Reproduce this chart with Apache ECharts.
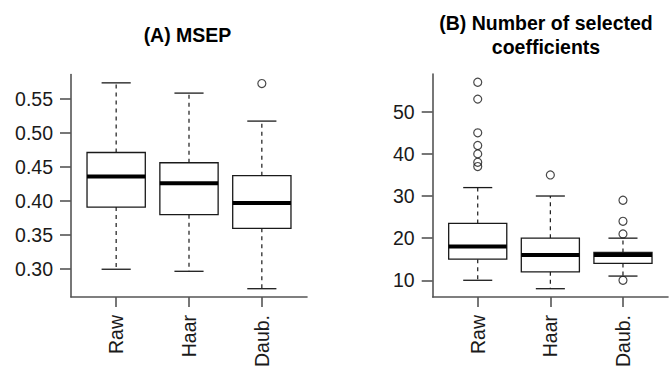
<!DOCTYPE html>
<html>
<head>
<meta charset="utf-8">
<script src="https://cdn.jsdelivr.net/npm/echarts@6/dist/echarts.min.js"></script>
<style>html,body{margin:0;padding:0;background:#fff;}#chart{width:670px;height:370px;}</style>
</head>
<body>
<div id="chart"></div>
<script>
// ---- data ----
const categories = ['Raw', 'Haar', 'Daub.'];
const catPositions = [1, 2, 3];

// Panel A: MSEP
const msepLower  = [0.300, 0.297, 0.2715];
const msepQ1     = [0.391, 0.380, 0.360];
const msepMedian = [0.436, 0.426, 0.397];
const msepQ3     = [0.471, 0.456, 0.437];
const msepUpper  = [0.573, 0.558, 0.517];
const msepOutliers = [[3, 0.572]];
const msepTicks = [0.30, 0.35, 0.40, 0.45, 0.50, 0.55];

// Panel B: number of selected coefficients
const coefLower  = [10, 8, 11];
const coefQ1     = [15, 12, 14];
const coefMedian = [18, 16, 16];
const coefQ3     = [23.5, 20, 16.6];
const coefUpper  = [32, 30, 20];
const coefOutliers = [
  [1, 57], [1, 53], [1, 45], [1, 42], [1, 40], [1, 38], [1, 37],
  [2, 35],
  [3, 29], [3, 24], [3, 21], [3, 10]
];
const coefTicks = [10, 20, 30, 40, 50];

const titleA = '(A) MSEP';
const titleB = '(B) Number of selected\ncoefficients';

// ---- build ----
function boxData(lo, q1, med, q3, up) {
  return catPositions.map((x, i) => [x, lo[i], q1[i], med[i], q3[i], up[i]]);
}
const FONT = '"Liberation Sans", Arial, Helvetica, sans-serif';
const INK = '#1a1a1a';
const AXC = '#555';
const FS = 19.5;

function renderBox(params, api) {
  const x = api.value(0);
  const pLo = api.coord([x, api.value(1)]);
  const pQ1 = api.coord([x, api.value(2)]);
  const pMd = api.coord([x, api.value(3)]);
  const pQ3 = api.coord([x, api.value(4)]);
  const pUp = api.coord([x, api.value(5)]);
  const half = api.size([0.4, 0])[0];
  const cap = half / 2;
  const cx = pMd[0];
  const dashStyle = { stroke: INK, lineWidth: 1.2, lineDash: [4, 4] };
  const solid = { stroke: INK, lineWidth: 1.3 };
  return {
    type: 'group',
    children: [
      { type: 'line', shape: { x1: cx, y1: pQ3[1], x2: cx, y2: pUp[1] }, style: dashStyle },
      { type: 'line', shape: { x1: cx, y1: pQ1[1], x2: cx, y2: pLo[1] }, style: dashStyle },
      { type: 'line', shape: { x1: cx - cap, y1: pUp[1], x2: cx + cap, y2: pUp[1] }, style: solid },
      { type: 'line', shape: { x1: cx - cap, y1: pLo[1], x2: cx + cap, y2: pLo[1] }, style: solid },
      { type: 'rect', shape: { x: cx - half, y: pQ3[1], width: 2 * half, height: pQ1[1] - pQ3[1] },
        style: { fill: '#fff', stroke: INK, lineWidth: 1.3 } },
      { type: 'line', shape: { x1: cx - half, y1: pMd[1], x2: cx + half, y2: pMd[1] },
        style: { stroke: '#000', lineWidth: 4 } }
    ]
  };
}

function xAxis(gridIndex) {
  return {
    type: 'value', gridIndex, min: 0.38, max: 3.62,
    splitLine: { show: false },
    axisLine: { show: true, onZero: false, lineStyle: { color: AXC, width: 1.6 } },
    axisTick: { show: true, customValues: catPositions, length: 10, lineStyle: { color: AXC, width: 1.6 } },
    axisLabel: {
      show: true, customValues: catPositions, rotate: 90, margin: 18,
      formatter: v => categories[Math.round(v) - 1] || '',
      fontFamily: FONT, fontSize: FS, color: INK
    }
  };
}
function yAxis(gridIndex, min, max, ticks, fmt) {
  return {
    type: 'value', gridIndex, min, max,
    splitLine: { show: false },
    axisLine: { show: true, onZero: false, lineStyle: { color: AXC, width: 1.6 } },
    axisTick: { show: true, customValues: ticks, length: 11, lineStyle: { color: AXC, width: 1.6 } },
    axisLabel: {
      show: true, customValues: ticks, margin: 18, formatter: fmt,
      fontFamily: FONT, fontSize: FS, color: INK
    }
  };
}

const chart = echarts.init(document.getElementById('chart'), null, { renderer: 'svg' });
chart.setOption({
  animation: false,
  backgroundColor: '#fff',
  grid: [
    { left: 71, top: 74.6, width: 236, height: 225.4 },
    { left: 432.7, top: 74, width: 235.3, height: 226 }
  ],
  xAxis: [xAxis(0), xAxis(1)],
  yAxis: [
    yAxis(0, 0.2594, 0.5851, msepTicks, v => v.toFixed(2)),
    yAxis(1, 6.04, 58.96, coefTicks, v => String(Math.round(v)))
  ],
  graphic: [
    { type: 'text', x: 187.5, y: 35, style: { text: titleA, textAlign: 'center', textVerticalAlign: 'middle',
      font: 'bold 19.5px ' + FONT, fill: '#000' } },
    { type: 'text', x: 546, y: 35, style: { text: titleB, textAlign: 'center', textVerticalAlign: 'middle',
      font: 'bold 19.5px ' + FONT, fill: '#000', lineHeight: 24 } }
  ],
  series: [
    { type: 'custom', xAxisIndex: 0, yAxisIndex: 0, renderItem: renderBox,
      data: boxData(msepLower, msepQ1, msepMedian, msepQ3, msepUpper), encode: { x: 0, y: [1, 2, 3, 4, 5] } },
    { type: 'custom', xAxisIndex: 1, yAxisIndex: 1, renderItem: renderBox,
      data: boxData(coefLower, coefQ1, coefMedian, coefQ3, coefUpper), encode: { x: 0, y: [1, 2, 3, 4, 5] } },
    { type: 'scatter', xAxisIndex: 0, yAxisIndex: 0, data: msepOutliers, symbol: 'circle', symbolSize: 8,
      itemStyle: { color: 'rgba(255,255,255,0)', borderColor: INK, borderWidth: 1.2 } },
    { type: 'scatter', xAxisIndex: 1, yAxisIndex: 1, data: coefOutliers, symbol: 'circle', symbolSize: 8,
      itemStyle: { color: 'rgba(255,255,255,0)', borderColor: INK, borderWidth: 1.2 } }
  ]
});
</script>
</body>
</html>
